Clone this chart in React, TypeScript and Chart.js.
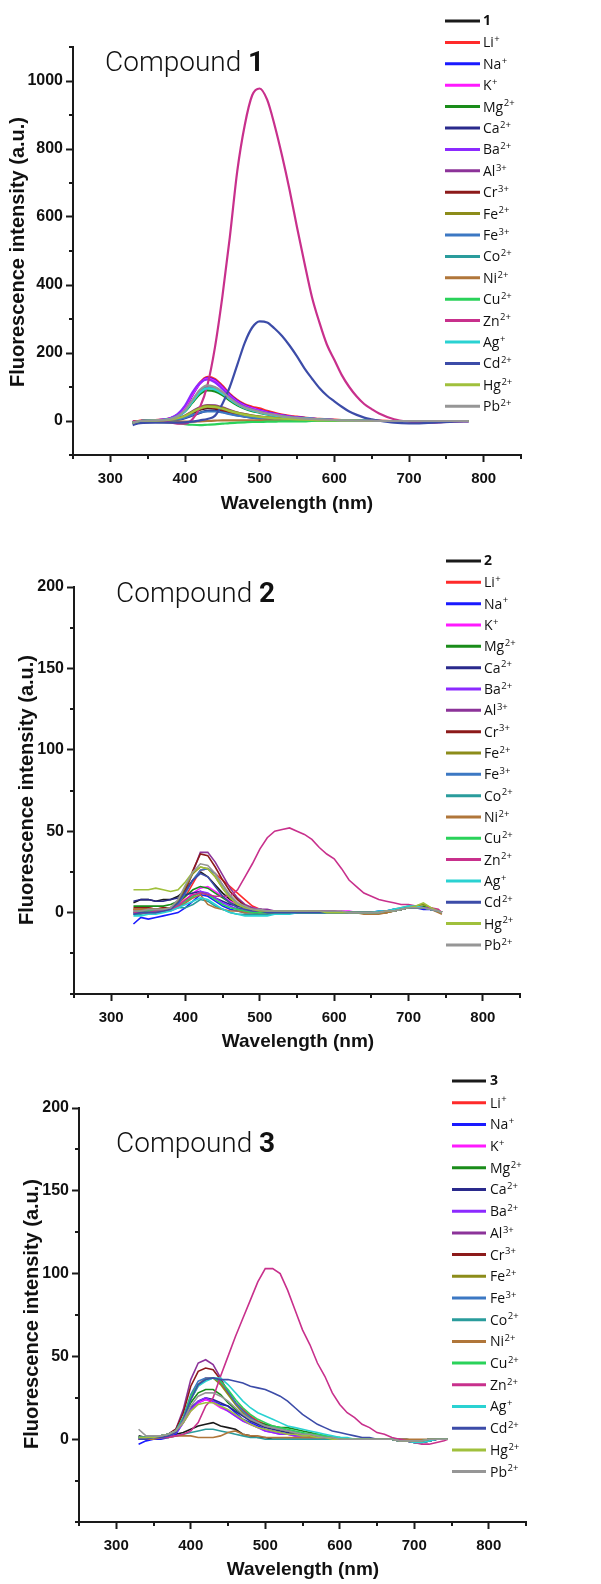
import React, { useEffect, useRef } from 'react';
import { Chart, registerables } from 'chart.js';
Chart.register(...registerables);

// ---------------- data ----------------
const COMPOUNDS = ['1', '2', '3'];
const ION_LABELS = ['Li+', 'Na+', 'K+', 'Mg2+', 'Ca2+', 'Ba2+', 'Al3+', 'Cr3+', 'Fe2+', 'Fe3+', 'Co2+', 'Ni2+', 'Cu2+', 'Zn2+', 'Ag+', 'Cd2+', 'Hg2+', 'Pb2+'];
const COLORS = ['#1a1a1a', '#ff2a2a', '#1a1aff', '#ff1aff', '#1a8c1a', '#2a2a8c', '#8c2aff', '#8c3399', '#8c1a1a', '#8c8c1a', '#3c78c3', '#2a9c9c', '#b0763a', '#2ad25a', '#c8308c', '#2ad2d2', '#3c4ca8', '#a0c03c', '#969696'];

const X_MAJOR = [300, 400, 500, 600, 700, 800];
const X_MINOR = [250, 350, 450, 550, 650, 750, 850];
const Y1_MAJOR = [0, 200, 400, 600, 800, 1000];
const Y1_MINOR = [-100, 100, 300, 500, 700, 900, 1100];
const Y23_MAJOR = [0, 50, 100, 150, 200];
const Y23_MINOR = [-50, -25, 25, 75, 125, 175];

// Compound 1 wavelengths (nm)
const WL1 = [330, 340, 360, 380, 390, 400, 410, 420, 430, 440, 450, 460, 470, 480, 490, 500, 510, 520, 530, 540, 550, 560, 570, 580, 590, 600, 610, 620, 630, 640, 650, 660, 680, 700, 720, 740, 760, 780];
const C1_BLANK = [-5, 0, 1, 3, 7, 13, 23, 33, 38, 36, 31, 25, 19, 15, 12, 10, 8, 7, 6, 5, 4, 3, 3, 2, 2, 1, 1, 1, 1, 0, 0, 0, 0, 0, 0, 0, 0, 0];
const C1_LI = [-4, 1, 3, 8, 18, 40, 78, 113, 130, 124, 104, 80, 62, 49, 42, 37, 30, 24, 19, 15, 13, 10, 8, 6, 5, 4, 3, 2, 2, 1, 1, 1, 0, 0, 0, 0, 0, 0];
const C1_NA = [-5, 0, 2, 7, 17, 38, 76, 110, 127, 120, 100, 77, 59, 46, 38, 32, 26, 21, 17, 13, 11, 9, 7, 5, 4, 3, 2, 2, 1, 1, 1, 0, 0, 0, 0, 0, 0, 0];
const C1_K = [-5, 0, 2, 7, 18, 40, 78, 110, 125, 118, 98, 75, 57, 45, 37, 31, 25, 20, 16, 13, 10, 8, 6, 5, 4, 3, 2, 2, 1, 1, 1, 0, 0, 0, 0, 0, 0, 0];
const C1_MG = [-5, 0, 2, 6, 13, 28, 54, 79, 90, 87, 76, 60, 46, 36, 29, 24, 19, 15, 12, 10, 8, 6, 5, 4, 3, 3, 2, 1, 1, 1, 1, 0, 0, 0, 0, 0, 0, 0];
const C1_CA = [-8, -3, -2, 0, 3, 8, 16, 24, 30, 30, 27, 22, 17, 13, 10, 8, 7, 6, 5, 4, 3, 3, 2, 2, 1, 1, 1, 1, 0, 0, 0, 0, 0, 0, 0, 0, 0, 0];
const C1_BA = [-5, 0, 2, 8, 20, 45, 84, 112, 122, 114, 94, 72, 55, 43, 35, 29, 24, 19, 15, 12, 10, 8, 6, 5, 4, 3, 2, 2, 1, 1, 1, 0, 0, 0, 0, 0, 0, 0];
const C1_AL = [-5, 0, 1, 4, 8, 16, 29, 41, 47, 46, 40, 32, 25, 20, 16, 13, 11, 9, 7, 6, 5, 4, 3, 3, 2, 2, 1, 1, 1, 1, 0, 0, 0, 0, 0, 0, 0, 0];
const C1_CR = [-5, 0, 1, 3, 7, 13, 24, 35, 40, 38, 32, 25, 19, 15, 12, 10, 8, 7, 6, 5, 4, 3, 3, 2, 2, 1, 1, 1, 1, 0, 0, 0, 0, 0, 0, 0, 0, 0];
const C1_FE2 = [-5, 0, 1, 4, 8, 15, 27, 39, 45, 44, 39, 31, 25, 20, 16, 13, 11, 9, 7, 6, 5, 4, 3, 3, 2, 2, 1, 1, 1, 1, 0, 0, 0, 0, 0, 0, 0, 0];
const C1_FE3 = [-6, -1, 0, 2, 5, 10, 18, 25, 28, 28, 25, 20, 16, 13, 10, 8, 7, 6, 5, 4, 3, 3, 2, 2, 1, 1, 1, 1, 0, 0, 0, 0, 0, 0, 0, 0, 0, 0];
const C1_CO = [-5, 0, 2, 6, 14, 31, 60, 88, 100, 96, 83, 65, 50, 39, 32, 26, 21, 17, 14, 11, 9, 7, 6, 5, 4, 3, 2, 2, 1, 1, 1, 0, 0, 0, 0, 0, 0, 0];
const C1_NI = [-5, -2, -2, -2, -2, -2, -2, -1, 0, 1, 2, 2, 2, 2, 2, 2, 2, 1, 1, 1, 1, 1, 1, 1, 1, 0, 0, 0, 0, 0, 0, 0, 0, 0, 0, 0, 0, 0];
const C1_CU = [-5, -3, -3, -4, -6, -9, -11, -12, -11, -10, -8, -6, -5, -4, -3, -3, -2, -2, -1, -1, -1, -1, 0, 0, 0, 0, 0, 0, 0, 0, 0, 0, 0, 0, 0, 0, 0, 0];
const C1_ZN = [0, 0, -1, -4, -8, -8, 5, 40, 105, 215, 365, 540, 735, 870, 958, 978, 945, 870, 780, 680, 570, 465, 365, 290, 225, 180, 135, 100, 72, 50, 35, 22, 5, -2, -5, -4, -2, -1];
const C1_AG = [-5, 0, 2, 6, 13, 29, 57, 84, 96, 93, 81, 64, 49, 38, 31, 25, 20, 16, 13, 10, 8, 7, 6, 4, 3, 3, 2, 1, 1, 1, 1, 0, 0, 0, 0, 0, 0, 0];
const C1_CD = [-12, -6, -5, -5, -5, -4, -2, 2, 6, 15, 50, 100, 165, 230, 275, 293, 290, 272, 250, 222, 190, 155, 125, 97, 75, 58, 42, 28, 18, 10, 5, 1, -5, -7, -6, -4, -2, -1];
const C1_HG = [-5, 0, 1, 4, 8, 15, 26, 37, 42, 41, 36, 29, 23, 18, 15, 12, 10, 8, 7, 6, 5, 4, 3, 2, 2, 2, 1, 1, 1, 0, 0, 0, 0, 0, 0, 0, 0, 0];
const C1_PB = [-5, 0, 2, 6, 14, 32, 62, 92, 105, 100, 86, 67, 51, 40, 33, 27, 22, 18, 14, 11, 9, 7, 6, 5, 4, 3, 2, 2, 1, 1, 1, 0, 0, 0, 0, 0, 0, 0];

// Compounds 2 and 3 wavelengths (nm)
const WL23 = [330, 340, 350, 360, 370, 380, 390, 400, 410, 420, 430, 440, 450, 460, 470, 480, 490, 500, 510, 520, 530, 540, 550, 560, 570, 580, 590, 600, 610, 620, 630, 640, 650, 660, 670, 680, 690, 700, 710, 720, 730, 740, 745];
const C2_BLANK = [6, 8, 8, 7, 8, 8, 10, 14, 20, 25, 22, 17, 12, 8, 5, 3, 2, 2, 1, 1, 1, 1, 1, 1, 0, 0, 1, 0, 0, 0, 0, 0, 0, 0, 1, 1, 2, 3, 3, 3, 2, 1, 0];
const C2_LI = [2, 2, 3, 2, 3, 3, 5, 10, 18, 26, 27, 24, 20, 16, 12, 8, 4, 2, 1, 1, 1, 1, 1, 1, 1, 1, 1, 1, 0, 0, 0, 0, 0, 0, 1, 1, 2, 3, 3, 3, 2, 1, 0];
const C2_NA = [-7, -3, -4, -3, -2, -1, 0, 3, 7, 11, 10, 7, 4, 2, 1, 0, 0, -1, -1, 0, 0, 0, 0, 0, 0, 0, 0, 0, 0, 0, 0, 0, 0, 1, 1, 2, 2, 3, 3, 2, 2, 1, 0];
const C2_K = [0, 0, 1, 1, 1, 2, 4, 8, 12, 15, 16, 13, 10, 7, 5, 4, 3, 2, 1, 1, 1, 1, 1, 1, 1, 1, 1, 1, 1, 1, 0, 0, 0, 0, 0, 1, 2, 3, 3, 3, 2, 1, 0];
const C2_MG = [4, 4, 4, 4, 4, 5, 7, 10, 14, 16, 15, 12, 9, 6, 4, 3, 2, 1, 1, 0, 0, 0, 0, 0, 0, 0, 0, 0, 0, 0, 0, 0, 0, 0, 0, 1, 2, 3, 3, 4, 2, 1, 0];
const C2_CA = [7, 8, 8, 7, 7, 8, 9, 11, 12, 13, 11, 9, 7, 5, 4, 3, 2, 2, 1, 1, 1, 1, 1, 1, 1, 0, 0, 0, 0, 0, 0, 0, 0, 0, 1, 1, 2, 3, 3, 3, 2, 1, 0];
const C2_BA = [-1, 0, 0, 0, 1, 1, 3, 6, 10, 13, 12, 9, 6, 4, 2, 1, 1, 0, 0, 0, 0, 0, 0, 0, 0, 0, 0, 0, 0, 0, 0, 0, 0, 0, 1, 1, 2, 3, 3, 3, 2, 1, 0];
const C2_AL = [1, 1, 2, 1, 2, 2, 5, 13, 25, 37, 37, 31, 23, 15, 9, 5, 3, 2, 2, 1, 1, 1, 1, 1, 1, 1, 1, 1, 0, 0, 0, 0, 0, 0, 1, 1, 2, 3, 3, 3, 2, 1, 0];
const C2_CR = [3, 3, 3, 2, 3, 3, 6, 14, 26, 36, 35, 28, 20, 13, 8, 4, 2, 1, 1, 1, 1, 1, 1, 1, 1, 1, 0, 0, 0, 0, 0, 0, 0, 0, 1, 1, 2, 3, 3, 3, 2, 1, 0];
const C2_FE2 = [2, 2, 2, 2, 2, 3, 7, 16, 24, 28, 27, 22, 15, 9, 5, 3, 2, 1, 1, 1, 1, 1, 1, 1, 0, 0, 0, 0, 0, 0, 0, 0, -1, 0, 0, 1, 2, 3, 4, 5, 3, 1, 0];
const C2_FE3 = [0, 0, 1, 1, 1, 2, 5, 12, 20, 26, 27, 24, 17, 10, 6, 3, 2, 1, 1, 1, 1, 0, 0, 0, 0, 0, 0, 0, 0, 0, 0, 0, 0, 0, 1, 1, 2, 3, 3, 3, 2, 1, 0];
const C2_CO = [-1, -1, 0, 0, 1, 2, 3, 3, 5, 8, 7, 4, 2, 0, -1, -1, -1, -1, -1, -1, 0, 0, 0, 0, 0, 0, 0, 0, 0, 0, 0, 0, 0, 0, 1, 2, 3, 4, 4, 3, 2, 1, 0];
const C2_NI = [2, 2, 2, 2, 2, 3, 4, 6, 9, 11, 5, 3, 2, 1, 1, 0, 0, 0, 0, 0, 0, 0, 0, 0, 0, 0, 0, 0, 0, 0, 0, -1, -1, -1, 0, 1, 2, 3, 3, 3, 2, 0, -1];
const C2_CU = [0, 1, 1, 1, 1, 2, 4, 7, 10, 12, 11, 8, 5, 3, 2, 1, 0, 0, 0, 0, 0, 0, 0, 0, 0, 0, 0, 0, 0, 0, 0, 0, 0, 0, 1, 1, 2, 3, 3, 3, 2, 1, 0];
const C2_ZN = [0, 0, 0, 1, 1, 2, 4, 8, 11, 12, 11, 10, 10, 10, 14, 22, 30, 39, 46, 50, 51, 52, 50, 48, 45, 40, 36, 33, 27, 20, 16, 12, 10, 8, 7, 6, 5, 5, 4, 3, 3, 2, 0];
const C2_AG = [-2, -2, -1, -1, 0, 1, 3, 5, 7, 9, 8, 5, 2, 0, -1, -2, -2, -2, -2, -1, -1, -1, 0, 0, 0, 0, 0, 0, 0, 0, 0, 0, 0, 1, 1, 2, 3, 4, 4, 3, 2, 1, 0];
const C2_CD = [-1, 0, 0, 0, 1, 2, 6, 13, 20, 24, 22, 16, 10, 6, 3, 2, 1, 1, 0, 0, 0, 0, 0, 0, 0, 0, 0, 0, 0, 0, 0, 0, 0, 0, 1, 1, 2, 3, 3, 3, 2, 1, 0];
const C2_HG = [14, 14, 14, 15, 14, 13, 14, 19, 25, 28, 27, 22, 15, 9, 5, 3, 2, 1, 1, 1, 1, 1, 1, 1, 1, 1, 0, 0, 0, 0, 0, 0, 0, 0, 1, 1, 2, 3, 4, 6, 3, 1, 0];
const C2_PB = [1, 1, 2, 2, 2, 3, 8, 17, 25, 30, 29, 24, 17, 11, 6, 4, 2, 2, 1, 1, 1, 1, 1, 1, 1, 1, 1, 1, 1, 0, 0, 0, 0, 0, 1, 1, 2, 3, 3, 3, 2, 1, 0];

const C3_BLANK = [2, 1, 1, 1, 2, 3, 4, 6, 8, 9, 10, 8, 7, 6, 3, 2, 1, 1, 0, 0, 0, 0, 0, 0, 0, 0, 0, 0, 0, 0, 0, 0, 0, 0, 0, 0, 0, -1, -1, -1, 0, 0, 0];
const C3_LI = [1, 1, 1, 1, 2, 4, 12, 24, 33, 37, 37, 34, 28, 22, 18, 14, 11, 9, 7, 6, 5, 4, 3, 3, 2, 1, 1, 0, 0, 0, 0, 0, 0, 0, 0, -1, -1, -2, -2, -1, 0, 0, 0];
const C3_NA = [-3, -1, 0, 0, 1, 3, 10, 18, 22, 24, 23, 21, 20, 16, 12, 10, 8, 6, 5, 4, 3, 3, 2, 2, 1, 1, 0, 0, 0, 0, 0, 0, 0, 0, 0, -1, -1, -2, -2, -1, 0, 0, 0];
const C3_K = [0, 0, 1, 1, 2, 4, 10, 17, 22, 24, 22, 19, 17, 14, 11, 9, 7, 5, 4, 3, 3, 2, 2, 1, 1, 1, 0, 0, 0, 0, 0, 0, 0, 0, 0, 0, -1, -1, -1, 0, 0, 0, 0];
const C3_MG = [1, 1, 1, 2, 3, 5, 12, 22, 28, 30, 30, 27, 22, 18, 15, 12, 10, 9, 8, 7, 7, 6, 5, 4, 3, 2, 1, 1, 0, 0, 0, 0, 0, 0, 0, -1, -1, -1, -1, 0, 0, 0, 0];
const C3_CA = [1, 1, 1, 2, 3, 5, 11, 19, 23, 25, 24, 22, 20, 17, 14, 11, 9, 7, 6, 5, 4, 3, 3, 2, 2, 1, 1, 0, 0, 0, 0, 0, 0, 0, 0, -1, -1, -1, -1, 0, 0, 0, 0];
const C3_BA = [0, 0, 1, 1, 2, 4, 10, 18, 23, 25, 23, 20, 17, 14, 11, 9, 7, 5, 4, 3, 3, 2, 2, 1, 1, 1, 0, 0, 0, 0, 0, 0, 0, 0, 0, 0, -1, -1, -1, 0, 0, 0, 0];
const C3_AL = [1, 1, 1, 2, 3, 6, 18, 36, 46, 48, 45, 37, 28, 22, 17, 13, 10, 8, 7, 6, 5, 4, 3, 2, 2, 1, 1, 0, 0, 0, 0, 0, 0, 0, 0, -1, -1, -2, -2, -1, 0, 0, 0];
const C3_CR = [1, 1, 1, 2, 3, 6, 16, 32, 41, 43, 42, 36, 29, 22, 17, 13, 10, 8, 7, 6, 5, 4, 3, 2, 2, 1, 1, 0, 0, 0, 0, 0, 0, 0, 0, -1, -1, -2, -2, -1, 0, 0, 0];
const C3_FE2 = [1, 1, 1, 2, 3, 5, 12, 24, 32, 36, 37, 33, 27, 21, 16, 12, 10, 8, 7, 6, 5, 4, 3, 3, 2, 1, 1, 0, 0, 0, 0, 0, 0, 0, 0, -1, -1, -1, -1, 0, 0, 0, 0];
const C3_FE3 = [1, 1, 1, 2, 3, 5, 13, 27, 35, 37, 37, 35, 29, 22, 17, 13, 10, 8, 7, 6, 5, 4, 3, 3, 2, 1, 1, 0, 0, 0, 0, 0, 0, 0, 0, -1, -1, -2, -2, -1, 0, 0, 0];
const C3_CO = [1, 1, 1, 1, 1, 2, 3, 4, 5, 6, 6, 5, 4, 3, 2, 1, 1, 0, 0, 0, 0, 0, 0, 0, 0, 0, 0, 0, 0, 0, 0, 0, 0, 0, 0, -1, -1, -2, -2, -1, 0, 0, 0];
const C3_NI = [0, 0, 0, 1, 1, 2, 2, 2, 1, 1, 1, 2, 4, 5, 3, 2, 2, 1, 1, 1, 1, 1, 1, 1, 1, 1, 1, 0, 0, 0, 0, 0, 0, 0, 0, 0, 0, 0, 0, 0, 0, 0, 0];
const C3_CU = [1, 1, 1, 2, 3, 5, 13, 26, 33, 36, 37, 35, 30, 24, 19, 15, 12, 10, 8, 7, 6, 5, 4, 3, 3, 2, 1, 1, 0, 0, 0, 0, 0, 0, 0, -1, -1, -1, -1, 0, 0, 0, 0];
const C3_ZN = [0, 0, 1, 1, 1, 2, 3, 5, 10, 20, 25, 38, 50, 62, 73, 84, 95, 103, 103, 100, 90, 78, 66, 57, 46, 38, 28, 21, 16, 13, 9, 7, 4, 3, 1, 0, -1, -2, -3, -3, -2, -1, 0];
const C3_AG = [1, 1, 1, 2, 3, 5, 12, 24, 32, 35, 37, 37, 33, 28, 23, 19, 16, 14, 12, 10, 8, 7, 6, 5, 4, 3, 2, 1, 1, 0, 0, 0, 0, 0, 0, -1, -1, -2, -2, -1, 0, 0, 0];
const C3_CD = [0, 0, 1, 1, 2, 4, 12, 24, 33, 36, 37, 36, 36, 35, 34, 32, 31, 30, 28, 26, 23, 19, 15, 12, 9, 7, 5, 4, 3, 2, 1, 1, 0, 0, 0, -1, -1, -1, -1, 0, 0, 0, 0];
const C3_HG = [1, 1, 1, 2, 3, 5, 10, 17, 21, 22, 22, 20, 18, 15, 12, 9, 7, 6, 5, 4, 3, 3, 2, 2, 1, 1, 0, 0, 0, 0, 0, 0, 0, 0, 0, -1, -1, -1, -1, 0, 0, 0, 0];
const C3_PB = [6, 2, 2, 2, 3, 5, 11, 20, 26, 28, 28, 26, 23, 19, 15, 12, 10, 8, 7, 6, 5, 4, 3, 3, 2, 1, 1, 0, 0, 0, 0, 0, 0, 0, 0, -1, -1, -1, -1, 0, 0, 0, 0];

const SERIES1 = [C1_BLANK, C1_LI, C1_NA, C1_K, C1_MG, C1_CA, C1_BA, C1_AL, C1_CR, C1_FE2, C1_FE3, C1_CO, C1_NI, C1_CU, C1_ZN, C1_AG, C1_CD, C1_HG, C1_PB];
const SERIES2 = [C2_BLANK, C2_LI, C2_NA, C2_K, C2_MG, C2_CA, C2_BA, C2_AL, C2_CR, C2_FE2, C2_FE3, C2_CO, C2_NI, C2_CU, C2_ZN, C2_AG, C2_CD, C2_HG, C2_PB];
const SERIES3 = [C3_BLANK, C3_LI, C3_NA, C3_K, C3_MG, C3_CA, C3_BA, C3_AL, C3_CR, C3_FE2, C3_FE3, C3_CO, C3_NI, C3_CU, C3_ZN, C3_AG, C3_CD, C3_HG, C3_PB];

// ---------------- layout ----------------
const W = 601;
const PANELS = [
  {
    top: 0, height: 530, compound: COMPOUNDS[0], wl: WL1, series: SERIES1,
    yMin: -100, yMax: 1100, yMajor: Y1_MAJOR, yMinor: Y1_MINOR,
    area: { left: 73, right: 521, top: 47, bottom: 455 },
    yTitle: { x: 18, y: 252 }, xTitle: { x: 297, y: 504 },
    legend: { x0: 445, x1: 480, tx: 483, y0: 21, dy: 21.4 },
    comp: { x: 105, y: 71 }, lineWidth: 2.2, smooth: true,
  },
  {
    top: 530, height: 530, compound: COMPOUNDS[1], wl: WL23, series: SERIES2,
    yMin: -50, yMax: 200, yMajor: Y23_MAJOR, yMinor: Y23_MINOR,
    area: { left: 74, right: 520, top: 57, bottom: 464 },
    yTitle: { x: 27, y: 260 }, xTitle: { x: 298, y: 512 },
    legend: { x0: 446, x1: 481, tx: 484, y0: 31, dy: 21.33 },
    comp: { x: 116, y: 72 }, lineWidth: 1.6, smooth: false,
  },
  {
    top: 1060, height: 524, compound: COMPOUNDS[2], wl: WL23, series: SERIES3,
    yMin: -50, yMax: 200, yMajor: Y23_MAJOR, yMinor: Y23_MINOR,
    area: { left: 79, right: 526, top: 48, bottom: 462 },
    yTitle: { x: 32, y: 254 }, xTitle: { x: 303, y: 510 },
    legend: { x0: 452, x1: 486, tx: 490, y0: 21, dy: 21.7 },
    comp: { x: 116, y: 92 }, lineWidth: 1.6, smooth: false,
  },
];

const AXIS = '#1a1a1a';
const X_TICK_FONT = { family: '"Liberation Sans", Arial, sans-serif', size: 15, weight: 'bold' as const };
const Y_TICK_FONT = { family: '"Liberation Sans", Arial, sans-serif', size: 16, weight: 'bold' as const };

function splitIon(label: string): [string, string] {
  const m = label.match(/^([A-Za-z]+)(\d?\+)$/);
  return m ? [m[1], m[2]] : [label, ''];
}

function Panel({ cfg }: { cfg: any }) {
  const ref = useRef<HTMLCanvasElement>(null);
  useEffect(() => {
    const canvas = ref.current;
    if (!canvas) return;
    const labels = [cfg.compound, ...ION_LABELS];
    const n = cfg.series.length;
    const datasets = cfg.series.map((s: number[], i: number) => ({
      label: labels[i],
      data: cfg.wl.map((x: number, j: number) => ({ x, y: s[j] })),
      borderColor: COLORS[i],
      backgroundColor: COLORS[i],
      borderWidth: cfg.lineWidth,
      pointRadius: 0,
      fill: false,
      tension: cfg.smooth ? 0.4 : 0,
      cubicInterpolationMode: cfg.smooth ? 'monotone' : 'default',
      order: n - i,
    }));
    const A = cfg.area;
    const decor = {
      id: 'decor',
      afterDraw(chart: any) {
        const ctx = chart.ctx as CanvasRenderingContext2D;
        const xs = chart.scales.x;
        const ys = chart.scales.y;
        ctx.save();
        // minor ticks
        ctx.strokeStyle = AXIS;
        ctx.lineWidth = 2;
        ctx.beginPath();
        X_MINOR.forEach((v) => {
          const px = Math.round(xs.getPixelForValue(v));
          ctx.moveTo(px, A.bottom);
          ctx.lineTo(px, A.bottom + 4);
        });
        cfg.yMinor.forEach((v: number) => {
          const py = Math.round(ys.getPixelForValue(v));
          ctx.moveTo(A.left - 4, py);
          ctx.lineTo(A.left, py);
        });
        ctx.stroke();
        // axis titles
        ctx.fillStyle = '#111';
        ctx.textAlign = 'center';
        ctx.textBaseline = 'middle';
        ctx.font = 'bold 19px "Liberation Sans", Arial, sans-serif';
        ctx.fillText('Wavelength (nm)', cfg.xTitle.x, cfg.xTitle.y);
        ctx.save();
        ctx.translate(cfg.yTitle.x, cfg.yTitle.y);
        ctx.rotate(-Math.PI / 2);
        ctx.font = 'bold 20px "Liberation Sans", Arial, sans-serif';
        ctx.fillText('Fluorescence intensity (a.u.)', 0, 0);
        ctx.restore();
        // compound label
        ctx.textAlign = 'left';
        ctx.textBaseline = 'alphabetic';
        ctx.font = '300 28px Roboto, "Open Sans", sans-serif';
        ctx.fillText('Compound ', cfg.comp.x, cfg.comp.y);
        const cw = ctx.measureText('Compound ').width;
        ctx.font = 'bold 28px Roboto, "Open Sans", sans-serif';
        ctx.fillText(cfg.compound, cfg.comp.x + cw, cfg.comp.y);
        // legend
        const L = cfg.legend;
        labels.forEach((lab: string, i: number) => {
          const y = L.y0 + i * L.dy;
          ctx.strokeStyle = COLORS[i];
          ctx.lineWidth = 3;
          ctx.beginPath();
          ctx.moveTo(L.x0, y);
          ctx.lineTo(L.x1, y);
          ctx.stroke();
          ctx.fillStyle = '#111';
          ctx.textBaseline = 'middle';
          if (i === 0) {
            ctx.font = 'bold 14px "Open Sans", sans-serif';
            ctx.fillText(lab, L.tx, y);
          } else {
            const [b, s] = splitIon(lab);
            ctx.font = '14px "Open Sans", sans-serif';
            ctx.fillText(b, L.tx, y + 1);
            const bw = ctx.measureText(b).width;
            ctx.font = '9.5px "Open Sans", sans-serif';
            ctx.fillText(s, L.tx + bw + 0.5, y - 3);
          }
        });
        ctx.restore();
      },
    };
    const gridOpts = { display: true, drawOnChartArea: false, drawTicks: true, tickLength: 7, tickWidth: 2, tickColor: AXIS, color: AXIS };
    const chart = new Chart(canvas, {
      type: 'line',
      data: { datasets },
      options: {
        animation: false,
        responsive: false,
        maintainAspectRatio: false,
        events: [],
        layout: { padding: { left: 0, top: A.top, right: W - A.right, bottom: 0 } },
        plugins: { legend: { display: false }, tooltip: { enabled: false }, title: { display: false } },
        scales: {
          x: {
            type: 'linear',
            min: 250,
            max: 850,
            afterBuildTicks: (s: any) => { s.ticks = X_MAJOR.map((v) => ({ value: v })); },
            afterFit: (s: any) => { s.height = cfg.height - A.bottom; },
            grid: gridOpts,
            border: { display: true, width: 2, color: AXIS },
            ticks: { font: X_TICK_FONT, color: '#111', padding: 8, autoSkip: false, maxRotation: 0, callback: (v: any) => String(v) },
          },
          y: {
            type: 'linear',
            min: cfg.yMin,
            max: cfg.yMax,
            afterBuildTicks: (s: any) => { s.ticks = cfg.yMajor.map((v: number) => ({ value: v })); },
            afterFit: (s: any) => { s.width = A.left; },
            grid: gridOpts,
            border: { display: true, width: 2, color: AXIS },
            ticks: { font: Y_TICK_FONT, color: '#111', padding: 3, autoSkip: false, callback: (v: any) => String(v) },
          },
        },
      } as any,
      plugins: [decor],
    });
    return () => chart.destroy();
  }, [cfg]);
  return (
    <canvas
      ref={ref}
      width={W}
      height={cfg.height}
      style={{ position: 'absolute', left: 0, top: cfg.top, width: W, height: cfg.height, display: 'block' }}
    />
  );
}

export default function App() {
  return (
    <div style={{ position: 'absolute', left: 0, top: 0, width: W, height: 1584, background: '#fff', overflow: 'hidden' }}>
      {PANELS.map((p, i) => (
        <Panel key={i} cfg={p} />
      ))}
    </div>
  );
}
